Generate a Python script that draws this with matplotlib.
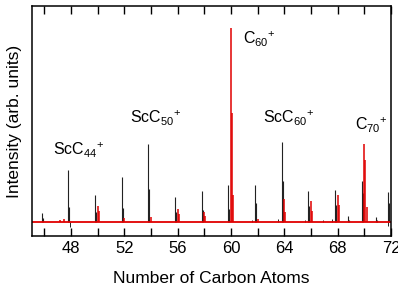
import numpy as np
import matplotlib
matplotlib.use('Agg')
import matplotlib.pyplot as plt

plt.rcParams['font.family'] = ['Liberation Sans', 'DejaVu Sans']
plt.rcParams['mathtext.default'] = 'regular'

# ScC_n+ clusters (black): main peak and first isotope line
sc_pos = [45.8, 47.8, 49.8, 51.8, 53.8, 55.8, 57.8, 59.8, 61.8, 63.8,
          65.8, 67.8, 68.8, 69.8, 70.85, 71.75]
sc_main = [0.047, 0.27, 0.14, 0.23, 0.40, 0.13, 0.16, 0.19, 0.19, 0.41,
           0.16, 0.167, 0.03, 0.21, 0.025, 0.153]
sc_iso_pos = [45.88, 47.88, 49.88, 51.88, 53.88, 55.88, 57.88, 59.88, 61.88, 63.88,
              65.88, 67.88, 68.88, 69.88, 70.93, 71.83]
sc_iso = [0.02, 0.078, 0.05, 0.073, 0.17, 0.05, 0.064, 0.068, 0.10, 0.21,
          0.085, 0.09, 0.01, 0.15, 0.01, 0.10]

# small background features in the black trace
bg_pos = [47.9, 61.55, 63.5, 65.55, 66.9, 67.55, 71.8]
bg_h = [-0.025, 0.012, 0.015, 0.01, 0.01, 0.015, -0.02]

# C_n+ clusters (red)
c_pos = [47.2, 47.5, 50.0, 50.08, 52.0, 54.0, 56.0, 56.08, 58.0, 58.08,
         60.0, 60.08, 60.17, 62.0, 64.0, 64.08, 66.0, 66.08,
         68.0, 68.08, 70.0, 70.08, 70.17]
c_h = [0.012, 0.015, 0.08, 0.055, 0.02, 0.025, 0.068, 0.04, 0.05, 0.03,
       1.0, 0.56, 0.14, 0.013, 0.12, 0.05, 0.107, 0.056,
       0.14, 0.09, 0.40, 0.32, 0.075]

labels = ['ScC$_{44}$$^{+}$', 'ScC$_{50}$$^{+}$', 'C$_{60}$$^{+}$',
          'ScC$_{60}$$^{+}$', 'C$_{70}$$^{+}$']
label_x = [46.64, 52.42, 60.87, 62.43, 69.32]
label_y = [0.345, 0.506, 0.918, 0.506, 0.472]

fig = plt.figure(figsize=(3.98, 2.85), dpi=100)
ax = fig.add_axes([0.0804, 0.172, 0.902, 0.807])

ax.vlines(sc_pos, 0, sc_main, color='#222222', lw=0.8)
ax.vlines(sc_iso_pos, 0, sc_iso, color='#222222', lw=0.8)
ax.vlines(bg_pos, 0, bg_h, color='#222222', lw=0.7)
ax.axhline(0, color='#e00000', lw=1.3)
ax.vlines(c_pos, 0, c_h, color='#e00000', lw=1.1)

for txt, x, y in zip(labels, label_x, label_y):
    ax.text(x, y, txt, fontsize=11.5, ha='left', va='baseline')

ax.set_xlim(45.07, 72)
ax.set_ylim(-0.072, 1.113)
ax.set_xticks(np.arange(48, 73, 4))
ax.set_xticks(np.arange(46, 73, 2), minor=True)
ax.tick_params(axis='x', which='both', direction='in', top=True, bottom=True,
               length=5.8, width=1.0, labelsize=12)
ax.tick_params(axis='y', left=False, labelleft=False)
for s in ax.spines.values():
    s.set_linewidth(1.1)

ax.set_xlabel('Number of Carbon Atoms', fontsize=12.5, labelpad=11)
ax.set_ylabel('Intensity (arb. units)', fontsize=12.5, labelpad=7)

fig.savefig('out.png', dpi=100)
